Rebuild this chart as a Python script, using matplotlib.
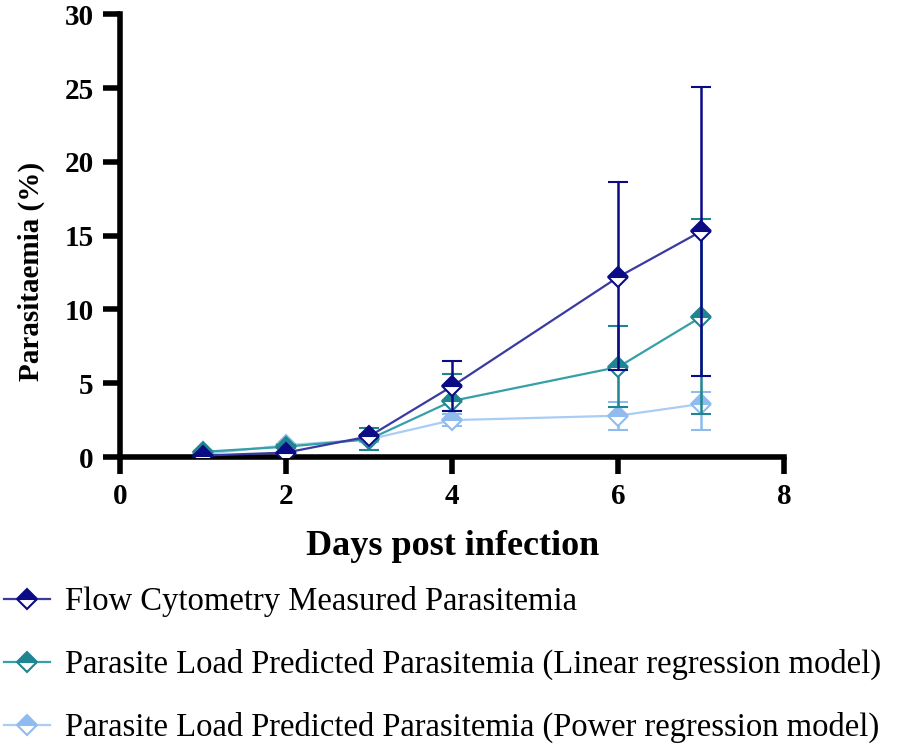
import numpy as np
import matplotlib.pyplot as plt
from matplotlib.lines import Line2D

plt.rcParams['font.family'] = ['Liberation Serif', 'DejaVu Serif']

days = [1, 2, 3, 4, 6, 7]

flow = [0.1, 0.3, 1.4, 4.8, 12.2, 15.3]
flow_lo = [0.1, 0.3, 1.4, 3.1, 5.9, 5.5]
flow_hi = [0.1, 0.3, 1.5, 6.5, 18.6, 25.1]

linear = [0.35, 0.7, 1.2, 3.8, 6.1, 9.5]
linear_lo = [0.3, 0.6, 0.45, 3.1, 3.4, 2.9]
linear_hi = [0.4, 0.8, 1.95, 5.6, 8.9, 16.1]

power = [0.2, 0.8, 1.2, 2.5, 2.8, 3.6]
power_lo = [0.15, 0.7, 1.0, 2.1, 1.8, 1.8]
power_hi = [0.25, 0.9, 1.4, 2.9, 3.7, 4.4]

labels = ['Flow Cytometry Measured Parasitemia',
          'Parasite Load Predicted Parasitemia (Linear regression model)',
          'Parasite Load Predicted Parasitemia (Power regression model)']

# (line colour, marker colour)
styles = [('#3a3aa0', '#0b0b85'), ('#35a0a8', '#1f8590'), ('#a9cdf5', '#8fbbef')]

fig = plt.figure(figsize=(8.98, 7.48), dpi=100)
ax = fig.add_axes([0.1336, 0.389, 0.740, 0.592])

series = [(power, power_lo, power_hi, 2), (linear, linear_lo, linear_hi, 1),
          (flow, flow_lo, flow_hi, 0)]
for vals, lo, hi, i in series:
    vals = np.array(vals)
    yerr = [vals - np.array(lo), np.array(hi) - vals]
    lc, mc = styles[i]
    ax.errorbar(days, vals, yerr=yerr, color=lc, ecolor=mc, elinewidth=1.8,
                capsize=7, capthick=1.8, lw=1.6, marker='D', markersize=10,
                fillstyle='top', markerfacecolor=mc, markerfacecoloralt='white',
                markeredgecolor=mc, markeredgewidth=1.5, zorder=3 - i)

ax.set_xlim(0, 8)
ax.set_ylim(0, 30)
ax.set_xticks([0, 2, 4, 6, 8])
ax.set_yticks([0, 5, 10, 15, 20, 25, 30])
for s in ['top', 'right']:
    ax.spines[s].set_visible(False)
for s in ['left', 'bottom']:
    ax.spines[s].set_linewidth(4)
ax.tick_params(width=4, length=12, labelsize=21, pad=7)
for t in ax.get_xticklabels() + ax.get_yticklabels():
    t.set_fontweight('bold')

ax.set_xlabel('Days post infection', fontsize=26, fontweight='bold', labelpad=14)
ax.set_ylabel('Parasitaemia (%)', fontsize=21, fontweight='bold')
ax.yaxis.set_label_coords(-0.113, 0.42)

handles = []
for lc, mc in styles:
    handles.append(Line2D([], [], color=lc, lw=1.6, marker='D', markersize=10,
                          fillstyle='top', markerfacecolor=mc,
                          markerfacecoloralt='white', markeredgecolor=mc,
                          markeredgewidth=1.5))
fig.legend(handles, labels, loc='upper left', bbox_to_anchor=(0.005, 0.2166),
           frameon=False, fontsize=23.5, handlelength=1.4, labelspacing=0.98,
           handletextpad=0.45, borderaxespad=0, borderpad=0)

fig.savefig('out.png', dpi=100)
